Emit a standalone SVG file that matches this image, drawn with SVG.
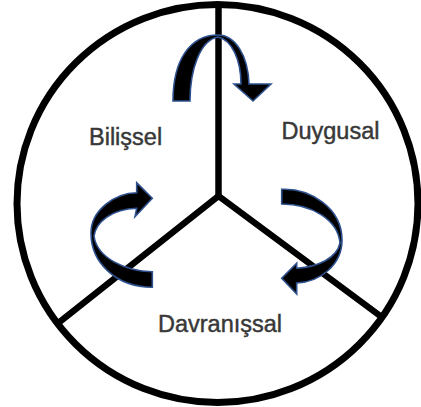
<svg xmlns="http://www.w3.org/2000/svg" width="421" height="407" viewBox="0 0 421 407">
  <style>
    .frame { fill: none; stroke: #000; }
    .div { stroke: #000; stroke-width: 6.5; stroke-linecap: butt; fill: none; }
    .arrow { fill: #000; stroke: #2f528f; stroke-width: 1.6; stroke-linejoin: miter; }
    .label { font-family: "Liberation Sans", Arial, sans-serif; font-size: 23.5px; fill: #383838; stroke: #383838; stroke-width: 0.45; }
  </style>
  <rect width="421" height="407" fill="#fff"/>
  <g id="frame">
    <ellipse class="frame" cx="217.5" cy="203.5" rx="200.5" ry="199" stroke-width="7"/>
    <line class="div" x1="218.5" y1="3" x2="218.5" y2="196"/>
    <polyline class="div" points="57,324 218.5,196 383,318"/>
  </g>
  <g id="bilissel">
    <text class="label" x="89" y="145">Bilişsel</text>
  </g>
  <g id="duygusal">
    <text class="label" x="281.5" y="139">Duygusal</text>
  </g>
  <g id="davranissal">
    <text class="label" x="158" y="332">Davranışsal</text>
  </g>
  <g id="connectors">
    <path class="arrow" d="M173,101 C173,60 190,35 218,35 C235,35 248,55 249,84 L271,84 L253,101 L234,84 L241,84 C241,60 232,40 218,37 C200,40 190,70 190,101 Z"/>
    <path class="arrow" d="M152.3,198.3 L136.7,182.7 L136.7,192.7 C115,193 91,210 91,233 C91,262 115,287 152.3,287.3 L152.3,271.7 C125,271 97,258 94,236 C96,222 112,209 136.7,208.3 L135,216.7 Z"/>
    <path class="arrow" d="M281.7,189.3 C310,188 342,208 342,240 C342,265 320,282 296.7,283 L296.7,294 L281.7,278.3 L296.7,263.3 L296.7,268.3 C318,267 337,258 340,243 C338,220 312,204 281.7,204 Z"/>
  </g>
</svg>
